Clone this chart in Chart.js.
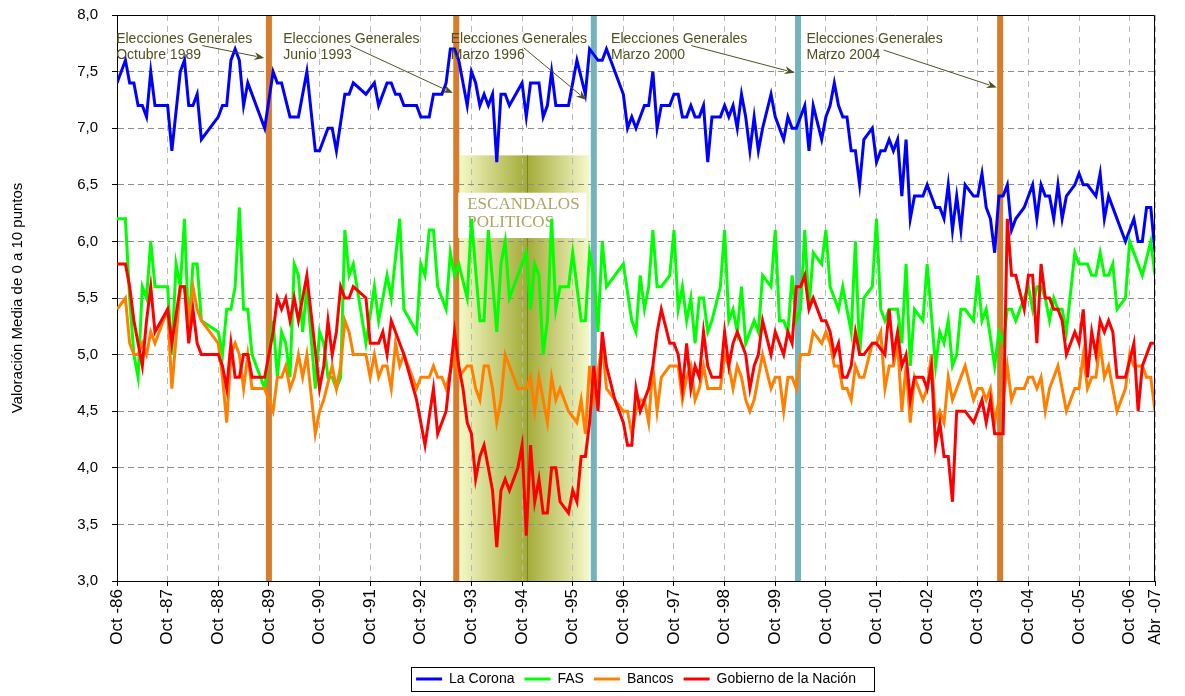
<!DOCTYPE html>
<html lang="es">
<head>
<meta charset="UTF-8" />
<title>Valoración media de instituciones</title>
<script src="https://cdn.jsdelivr.net/npm/chart.js@4.4.1/dist/chart.umd.min.js"></script>
<style>
	body { margin:0; background:#FFFFFF; }
	#grafico { display:block; }
</style>
</head>
<body>
<canvas id="grafico" width="1185" height="696"></canvas>
<script>
// meses contados desde Oct-86 (0) hasta Abr-07 (246)
const tickMeses = [0,12,24,36,48,60,72,84,96,108,120,132,144,156,168,180,192,204,216,228,240,246];
const tickTextos = ['Oct -86','Oct -87','Oct -88','Oct -89','Oct -90','Oct -91','Oct -92','Oct -93','Oct -94','Oct -95',
	'Oct -96','Oct -97','Oct -98','Oct -99','Oct -00','Oct -01','Oct -02','Oct -03','Oct -04','Oct -05','Oct -06','Abr -07'];

const coronaMes = [0,2,3,4,5,6,7,8,9,12, 13,15,16,17,18,19,20,24,25,26, 27,28,29,30,31,35,37,38,39,41,
	43,44,45,47,48,50,51,52,54,55, 56,59,61,62,64,65,66,67,68,71, 72,74,75,77,78,79,80,81,83,84,
	85,86,87,88,89,90,91,92,93,96, 97,98,100,101,102,103,104,107,109,111, 112,114,115,116,117,120,121,122,123,125,
	126,127,128,129,131,132,133,134,135,136, 137,138,139,140,141,143,144,145,146,147, 148,149,150,151,152,153,155,156,158,159,
	160,161,163,164,165,167,168,169,170,171, 172,173,174,175,176,177,179,180,181,182, 183,184,185,186,187,188,189,191,192,194,
	195,196,197,198,199,200,201,203,204,205, 206,207,208,209,210,211,212,213,215,217, 218,219,220,221,222,223,224,225,227,228,
	229,230,232,233,234,235,239,241,242,243, 244,245,246];
const coronaVal = [7.4,7.6,7.4,7.4,7.2,7.2,7.1,7.5,7.2,7.2, 6.8,7.5,7.6,7.2,7.2,7.3,6.9,7.1,7.2,7.2, 7.6,7.7,7.6,7.2,7.4,7.0,7.5,7.4,7.4,7.1,
	7.1,7.3,7.5,6.8,6.8,7.0,7.0,6.8,7.3,7.3, 7.4,7.3,7.4,7.2,7.4,7.4,7.3,7.3,7.2,7.2, 7.1,7.1,7.3,7.3,7.4,7.7,7.7,7.6,7.2,7.5,
	7.4,7.2,7.3,7.2,7.3,6.7,7.3,7.3,7.2,7.4, 7.1,7.4,7.4,7.1,7.2,7.5,7.2,7.2,7.6,7.3, 7.7,7.6,7.6,7.7,7.6,7.3,7.0,7.1,7.0,7.2,
	7.2,7.5,7.0,7.2,7.2,7.3,7.3,7.1,7.1,7.2, 7.1,7.1,7.2,6.7,7.1,7.1,7.2,7.1,7.2,7.0, 7.3,7.1,6.8,7.1,6.8,7.0,7.3,7.1,6.9,7.1,
	7.0,7.0,7.2,6.8,7.2,6.9,7.1,7.2,7.4,7.2, 7.1,7.1,6.8,6.8,6.5,6.9,7.0,6.7,6.8,6.8, 6.9,6.8,6.9,6.4,6.9,6.2,6.4,6.4,6.5,6.3,
	6.3,6.2,6.5,6.1,6.4,6.1,6.5,6.4,6.4,6.6, 6.3,6.2,5.9,6.4,6.4,6.5,6.1,6.2,6.3,6.5, 6.2,6.5,6.4,6.4,6.2,6.5,6.2,6.4,6.5,6.6,
	6.5,6.5,6.4,6.6,6.2,6.4,6.0,6.2,6.0,6.0, 6.3,6.3,5.9];

const fasMes = [0,2,3,4,5,6,7,8,9,12, 13,14,15,16,17,18,19,20,24,25, 26,27,28,29,30,31,32,35,37,38,
	39,40,41,42,43,44,45,47,48,49, 50,51,52,53,54,55,56,59,61,62, 64,65,67,68,71,72,73,74,75,76,
	78,79,80,81,83,84,86,87,88,90, 91,92,93,97,98,99,100,101,102,103, 104,105,107,108,110,111,112,113,114,115,
	116,120,122,123,124,125,126,127,128,129, 131,132,133,134,135,136,137,138,139,140, 141,143,144,145,146,147,148,149,151,152,
	153,155,156,157,158,159,160,161,162,163, 164,165,167,168,169,171,172,174,175,176, 177,179,180,181,182,183,185,186,187,188,
	189,191,192,194,195,196,197,198,199,200, 201,203,204,205,206,208,209,210,211,212, 213,215,216,217,218,219,220,221,222,223,
	224,225,227,228,230,231,232,233,234,235, 236,237,239,240,243,245,246];
const fasVal = [6.2,6.2,5.5,5.0,4.8,5.6,5.5,6.0,5.6,5.6, 5.0,5.8,5.6,6.2,5.2,5.8,5.8,5.3,5.2,5.0, 5.4,5.4,5.6,6.3,5.4,5.4,5.0,4.7,5.3,4.8,
	5.2,5.1,4.8,5.8,5.7,5.2,5.6,4.7,5.2,5.1, 4.8,4.8,4.7,4.8,6.1,5.7,5.8,5.1,5.6,5.3, 5.7,5.5,6.2,5.4,5.2,5.8,5.7,6.1,6.1,5.6,
	5.4,5.9,5.7,5.8,5.5,6.2,5.3,5.3,6.1,5.2, 5.8,6.0,5.5,5.9,5.4,5.8,5.7,5.0,5.3,6.2, 5.4,5.6,5.6,5.9,5.3,5.3,5.9,5.7,5.2,6.0,
	5.6,5.8,5.3,5.2,5.7,5.4,5.6,6.1,5.6,5.6, 5.7,6.1,5.4,5.6,5.3,5.5,5.1,5.5,5.5,5.2, 5.3,5.6,6.1,5.3,5.4,5.2,5.6,5.1,5.3,5.2,
	5.7,5.6,6.1,5.3,5.3,5.2,5.7,5.3,5.4,6.1, 5.4,5.9,5.8,6.1,5.6,5.4,5.6,5.2,6.0,5.0, 5.5,5.6,6.2,5.4,5.3,5.4,5.4,5.1,5.8,4.9,
	5.4,5.3,5.8,4.9,5.2,5.1,5.3,4.9,5.0,5.4, 5.4,5.3,5.7,5.3,5.4,4.9,5.2,5.1,5.4,5.4, 5.3,5.5,5.6,5.4,5.6,5.6,5.5,5.3,5.5,5.4,
	5.4,5.2,5.9,5.8,5.8,5.7,5.7,5.9,5.7,5.7, 5.8,5.4,5.5,6.0,5.7,6.0,5.7];

const bancosMes = [0,2,3,4,5,6,7,8,9,12, 13,15,16,17,18,19,20,24,25,26, 27,28,29,30,31,32,35,37,38,39,
	40,41,42,43,44,45,47,48,49,51, 52,53,54,55,56,59,60,61,62,63, 64,65,66,67,68,71,72,74,75,76,
	77,78,80,81,83,84,85,86,87,88, 89,90,91,92,95,97,98,99,100,102, 103,104,105,107,109,110,111,112,113,115,
	116,120,121,122,123,124,125,126,127,128, 129,131,133,134,135,136,137,138,139,140, 143,144,145,146,147,148,149,150,151,153,
	155,156,157,158,159,160,161,162,164,165, 167,168,169,170,171,172,173,174,175,176, 177,179,180,181,182,183,184,185,186,187,
	188,189,190,191,192,193,194,195,196,197, 198,201,203,204,205,206,207,208,209,210, 211,212,213,215,216,217,218,219,220,221,
	223,225,227,228,229,230,231,232,233,234, 235,237,239,240,241,243,244,245,246];
const bancosVal = [5.4,5.5,5.1,5.0,5.0,5.1,5.0,5.2,5.1,5.4, 4.7,5.6,5.6,5.3,5.6,5.4,5.3,5.1,4.8,4.4, 5.0,5.1,5.0,4.7,5.0,4.7,4.7,4.5,4.8,4.8,
	4.9,4.7,4.8,5.0,4.8,5.0,4.3,4.5,4.6,4.9, 4.7,4.9,5.3,5.2,5.0,5.0,4.8,5.0,4.8,4.9, 4.9,4.7,5.1,4.9,5.0,4.7,4.8,4.8,4.9,4.8,
	4.8,4.7,5.0,4.8,4.9,4.9,4.7,4.6,4.9,4.9, 4.7,4.4,4.6,5.0,4.7,4.7,4.8,4.5,4.8,4.4, 4.8,4.6,4.7,4.5,4.4,4.6,4.3,4.9,4.6,5.1,
	4.7,4.5,4.5,4.3,4.5,4.6,4.6,4.4,4.9,4.5, 4.8,4.9,4.9,4.6,4.8,4.9,4.6,4.7,4.9,4.7, 4.7,5.0,4.9,4.7,4.9,4.8,4.6,4.5,4.6,5.0,
	4.7,4.8,4.8,4.5,4.8,4.8,4.7,5.0,5.0,5.2, 5.1,5.2,5.1,4.9,4.9,4.7,4.7,4.6,4.9,4.8, 4.8,5.1,5.1,5.2,4.7,4.9,4.9,5.1,4.5,4.9,
	4.4,4.8,4.7,4.6,4.7,5.0,4.4,4.5,4.4,4.8, 4.6,4.9,4.6,4.7,4.7,4.6,4.7,4.4,4.6,4.6, 4.9,4.6,4.7,4.7,4.8,4.8,4.7,4.8,4.5,4.7,
	4.9,4.5,4.7,4.7,5.0,4.7,4.8,4.8,5.1,4.8, 4.9,4.5,4.7,5.0,4.9,4.9,4.8,4.8,4.5];

const gobiernoMes = [0,2,3,4,6,7,8,9,12,13, 15,16,17,18,19,20,24,25,26,27, 28,29,30,31,32,35,37,38,39,40,
	41,42,43,45,48,49,50,51,52,53, 54,55,56,59,60,62,63,64,65,66, 68,71,73,75,76,78,80,81,82,83,
	84,85,86,87,88,89,90,91,92,93, 95,96,97,98,99,100,101,102,103,104, 105,107,108,109,110,111,112,113,114,115,
	116,118,120,121,122,123,124,125,126,127, 128,129,131,132,133,134,135,136,137,138, 139,140,141,143,144,145,146,147,148,149,
	150,151,152,153,155,156,158,159,160,161, 162,163,164,165,167,168,169,170,171,172, 173,174,175,176,177,179,180,182,183,184,
	185,186,187,188,189,191,192,193,194,195, 196,197,198,199,201,203,204,205,206,207, 208,210,211,212,213,215,216,217,218,219,
	220,221,222,223,224,225,227,228,229,230, 231,232,233,234,235,236,237,239,241,242, 243,245,246];
const gobiernoVal = [5.8,5.8,5.6,5.3,4.9,5.3,5.6,5.2,5.4,5.1, 5.6,5.6,5.1,5.4,5.1,5.0,5.0,4.9,4.7,5.1, 4.8,4.8,5.0,5.0,4.8,4.8,5.2,5.5,5.4,5.5,
	5.3,5.5,5.3,5.7,4.7,4.9,5.3,5.0,5.2,5.6, 5.5,5.5,5.6,5.5,5.1,5.1,5.2,5.0,5.3,5.2, 5.0,4.6,4.2,4.7,4.3,4.5,5.2,4.9,4.7,4.4,
	4.3,3.9,4.1,4.2,4.0,3.8,3.3,3.8,3.9,3.8, 4.0,4.2,3.4,4.2,3.7,3.9,3.6,3.6,4.0,4.0, 3.7,3.6,3.8,3.7,4.1,4.1,4.4,4.9,4.5,5.2,
	4.9,4.6,4.4,4.2,4.2,4.7,4.5,4.6,4.7,4.9, 5.2,5.4,5.1,5.1,5.0,4.7,5.1,4.7,4.9,4.8, 5.2,4.9,4.8,4.8,5.2,4.9,5.1,5.2,5.1,5.0,
	4.7,4.9,5.0,5.3,5.0,5.2,5.0,5.2,5.1,5.6, 5.6,5.7,5.4,5.5,5.3,5.3,5.2,5.0,5.1,4.8, 4.8,4.9,5.2,5.0,5.0,5.1,5.1,5.0,5.4,5.0,
	5.2,4.9,5.0,4.6,4.8,4.8,4.7,4.9,4.2,4.4, 4.1,4.1,3.7,4.5,4.5,4.4,4.5,4.6,4.4,4.6, 4.3,4.3,6.2,5.7,5.7,5.4,5.7,5.7,5.1,5.8,
	5.5,5.5,5.4,5.4,5.3,5.0,5.2,5.1,5.4,4.8, 5.2,5.0,5.3,5.2,5.3,5.2,4.8,4.8,5.1,4.5, 4.9,5.1,5.1];

// elecciones generales (mes del hito) y periodo de escándalos
const eleccionesMes = [36, 80.4, 113, 161.4, 209.3];
const eleccionesTexto = ['Octubre 1989','Junio 1993','Marzo 1996','Marzo 2000','Marzo 2004'];
const eleccionesColor = ['#d77b2c','#d77b2c','#73b3bb','#73b3bb','#d77b2c'];
const notaMes = [-0.2, 39.4, 79.1, 117.1, 163.4];
const flechaDesde = [[20.2,7.73],[55.3,7.73],[96.4,7.71],[136.1,7.73],[181.7,7.69]];
const flechaHasta = [[34.9,7.62],[79.6,7.31],[111.2,7.25],[160.6,7.49],[208.5,7.36]];
const escandalo = {desde: 81.1, hasta: 111.9, centro: 97.1, tope: 6.76, cajaArriba: 6.43, cajaAbajo: 6.03};

const fuente = 'Arial, "Liberation Sans", sans-serif';
const puntos = (meses, valores) => meses.map((m, i) => ({x: m, y: valores[i]}));

const marcas = {
	id: 'marcas',
	beforeDraw(chart) {
		const {ctx, chartArea: a, scales: {x, y}} = chart;
		const x0 = x.getPixelForValue(escandalo.desde);
		const x1 = x.getPixelForValue(escandalo.hasta);
		const xc = x.getPixelForValue(escandalo.centro);
		const yt = y.getPixelForValue(escandalo.tope);
		const g = ctx.createLinearGradient(x0, 0, x1, 0);
		g.addColorStop(0, '#f5f9c8');
		g.addColorStop((xc - x0) / (x1 - x0), '#a3ab37');
		g.addColorStop(1, '#f5f9c8');
		ctx.save();
		ctx.fillStyle = g;
		ctx.fillRect(x0, yt, x1 - x0, a.bottom - yt);
		ctx.strokeStyle = '#7d8428';
		ctx.lineWidth = 1;
		ctx.beginPath();
		ctx.moveTo(Math.round(xc) + 0.5, yt);
		ctx.lineTo(Math.round(xc) + 0.5, a.bottom);
		ctx.stroke();
		ctx.restore();
	},
	beforeDatasetsDraw(chart) {
		const {ctx, chartArea: a, scales: {x, y}} = chart;
		ctx.save();
		eleccionesMes.forEach((m, i) => {
			ctx.fillStyle = eleccionesColor[i];
			ctx.fillRect(x.getPixelForValue(m) - 3, a.top + 1, 6, a.bottom - a.top - 1);
		});
		// cuadro de texto
		const x0 = x.getPixelForValue(escandalo.desde);
		const x1 = x.getPixelForValue(escandalo.hasta - 0.7);
		const yt = y.getPixelForValue(escandalo.cajaArriba);
		const yb = y.getPixelForValue(escandalo.cajaAbajo);
		ctx.fillStyle = '#ffffff';
		ctx.fillRect(x0 - 1, yt, x1 - x0 + 1, yb - yt);
		ctx.fillStyle = '#aca660';
		ctx.font = '17px "Liberation Serif", "Times New Roman", serif';
		ctx.textBaseline = 'middle';
		ctx.fillText('ESCANDALOS', x0 + 8, yt + 12);
		ctx.fillText('POLITICOS', x0 + 8, yt + 30);
		ctx.restore();
	},
	afterDatasetsDraw(chart) {
		const {ctx, scales: {x, y}} = chart;
		ctx.save();
		ctx.fillStyle = '#50501e';
		ctx.strokeStyle = '#50501e';
		ctx.font = '14px ' + fuente;
		ctx.textBaseline = 'middle';
		const yl = y.getPixelForValue(7.79);
		eleccionesTexto.forEach((t, i) => {
			const xl = x.getPixelForValue(notaMes[i]);
			ctx.fillText('Elecciones Generales', xl, yl);
			ctx.fillText(t, xl, yl + 16);
			const ax = x.getPixelForValue(flechaDesde[i][0]), ay = y.getPixelForValue(flechaDesde[i][1]);
			const bx = x.getPixelForValue(flechaHasta[i][0]), by = y.getPixelForValue(flechaHasta[i][1]);
			const ang = Math.atan2(by - ay, bx - ax);
			ctx.lineWidth = 1;
			ctx.beginPath();
			ctx.moveTo(ax, ay);
			ctx.lineTo(bx - 8 * Math.cos(ang), by - 8 * Math.sin(ang));
			ctx.stroke();
			ctx.beginPath();
			ctx.moveTo(bx, by);
			ctx.lineTo(bx - 10 * Math.cos(ang) + 4 * Math.sin(ang), by - 10 * Math.sin(ang) - 4 * Math.cos(ang));
			ctx.lineTo(bx - 7 * Math.cos(ang), by - 7 * Math.sin(ang));
			ctx.lineTo(bx - 10 * Math.cos(ang) - 4 * Math.sin(ang), by - 10 * Math.sin(ang) + 4 * Math.cos(ang));
			ctx.closePath();
			ctx.fill();
		});
		ctx.restore();
	},
	afterDraw(chart) {
		const {ctx, chartArea: a, legend} = chart;
		ctx.save();
		ctx.strokeStyle = '#000000';
		ctx.lineWidth = 1;
		ctx.beginPath();
		ctx.moveTo(Math.round(a.left) + 0.5, Math.round(a.top) + 0.5);
		ctx.lineTo(Math.round(a.right) - 0.5, Math.round(a.top) + 0.5);
		ctx.lineTo(Math.round(a.right) - 0.5, Math.round(a.bottom));
		ctx.stroke();
		const hb = legend.legendHitBoxes;
		if (hb && hb.length) {
			const l = hb[0].left - 5;
			const r = hb[hb.length - 1].left + hb[hb.length - 1].width + 18;
			const t = hb[0].top - 5;
			const b = hb[0].top + hb[0].height + 5;
			ctx.strokeRect(Math.round(l) + 0.5, Math.round(t) + 0.5, Math.round(r - l), Math.round(b - t));
		}
		ctx.restore();
	}
};

const linea = (label, meses, valores, color, orden) => ({
	label: label,
	data: puntos(meses, valores),
	borderColor: color,
	backgroundColor: color,
	borderWidth: 3,
	pointRadius: 0,
	tension: 0,
	order: orden
});

new Chart(document.getElementById('grafico'), {
	type: 'line',
	data: {
		datasets: [
			linea('La Corona', coronaMes, coronaVal, '#0000ff', 4),
			linea('FAS', fasMes, fasVal, '#00ff00', 3),
			linea('Bancos', bancosMes, bancosVal, '#ff8000', 2),
			linea('Gobierno de la Nación', gobiernoMes, gobiernoVal, '#ff0000', 1)
		]
	},
	options: {
		responsive: false,
		animation: false,
		events: [],
		layout: {padding: {left: 0, right: 30, top: 15, bottom: 0}},
		scales: {
			x: {
				type: 'linear', min: 0, max: 246,
				afterBuildTicks: s => { s.ticks = tickMeses.map(v => ({value: v})); },
				afterFit: s => { s.height = 81; s.paddingLeft = 0; s.paddingRight = 0; },
				ticks: {
					autoSkip: false, maxRotation: 90, minRotation: 90, padding: 3,
					color: '#000000', font: {family: fuente, size: 17},
					callback: (v, i) => tickTextos[i]
				},
				grid: {color: '#b8b8b8', lineWidth: 1, tickLength: 5, tickColor: '#000000', tickBorderDash: []},
				border: {color: '#000000', width: 1, dash: [6, 5]}
			},
			y: {
				min: 3, max: 8,
				afterFit: s => { s.width = 117; s.paddingTop = 0; s.paddingBottom = 0; },
				ticks: {
					stepSize: 0.5, padding: 14, color: '#000000', font: {family: fuente, size: 15},
					callback: v => v.toFixed(1).replace('.', ',')
				},
				grid: {color: '#8c8c8c', lineWidth: 1, tickLength: 5, tickColor: '#000000', tickBorderDash: []},
				border: {color: '#000000', width: 1, dash: [6, 4]},
				title: {display: true, text: 'Valoración Media de 0 a 10 puntos', color: '#000000',
					font: {family: fuente, size: 15}, padding: {top: 9, bottom: 0}}
			}
		},
		plugins: {
			legend: {
				position: 'bottom', fullSize: false,
				labels: {
					usePointStyle: true, pointStyle: 'line', pointStyleWidth: 26, boxHeight: 14,
					padding: 10, color: '#000000', font: {family: fuente, size: 14},
					sort: (a, b) => a.datasetIndex - b.datasetIndex
				}
			},
			tooltip: {enabled: false}
		}
	},
	plugins: [marcas]
});
</script>
</body>
</html>
